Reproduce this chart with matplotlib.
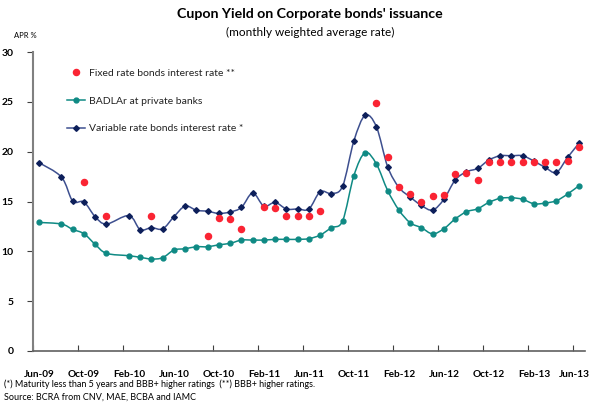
import numpy as np
import matplotlib
matplotlib.use('Agg')
from matplotlib import pyplot as plt
from matplotlib.path import Path
from matplotlib.patches import PathPatch
from matplotlib.lines import Line2D

plt.rcParams['font.family'] = ['Lato', 'DejaVu Sans']

# Data (monthly, Jun-09 .. Jun-13), nan = no observation
nan = np.nan
months = ['Jun-09','Jul-09','Aug-09','Sep-09','Oct-09','Nov-09','Dec-09','Jan-10','Feb-10','Mar-10','Apr-10','May-10',
          'Jun-10','Jul-10','Aug-10','Sep-10','Oct-10','Nov-10','Dec-10','Jan-11','Feb-11','Mar-11','Apr-11','May-11',
          'Jun-11','Jul-11','Aug-11','Sep-11','Oct-11','Nov-11','Dec-11','Jan-12','Feb-12','Mar-12','Apr-12','May-12',
          'Jun-12','Jul-12','Aug-12','Sep-12','Oct-12','Nov-12','Dec-12','Jan-13','Feb-13','Mar-13','Apr-13','May-13',
          'Jun-13']
tick_labels = ['Jun-09','Oct-09','Feb-10','Jun-10','Oct-10','Feb-11','Jun-11','Oct-11','Feb-12','Jun-12','Oct-12','Feb-13','Jun-13']

variable = [18.9, nan, 17.45, 15.05, 14.95, 13.47, 12.74, nan, 13.58, 12.18, 12.38, 12.25,
            13.47, 14.54, 14.12, 14.02, 13.8, 13.95, 14.4, 15.85, 14.54, 14.91, 14.25, 14.25,
            14.25, 15.98, 15.8, 16.55, 21.08, 23.64, 22.5, 18.49, 16.42, 15.45, 14.6, 14.14,
            15.22, 17.15, 17.98, 18.32, 19.16, 19.59, 19.59, 19.59, 19.06, 18.42, 17.92, 19.43,
            20.83]
badlar = [12.9, nan, 12.74, 12.2, 11.77, 10.7, 9.8, nan, 9.56, 9.4, 9.23, 9.36,
          10.13, 10.26, 10.46, 10.46, 10.66, 10.8, 11.13, 11.13, 11.13, 11.2, 11.2, 11.2,
          11.27, 11.63, 12.37, 13.07, 17.6, 19.9, 18.76, 16.1, 14.14, 12.87, 12.37, 11.75,
          12.27, 13.24, 13.97, 14.27, 14.91, 15.32, 15.38, 15.22, 14.77, 14.84, 15.08, 15.75,
          16.58]
fixed = [nan, nan, nan, nan, 17.0, nan, 13.5, nan, nan, nan, 13.5, nan,
         nan, nan, nan, 11.53, 13.35, 13.25, 12.2, nan, 14.4, 14.3, 13.5, 13.5,
         13.5, 14.02, nan, nan, nan, nan, 24.9, 19.49, 16.42, 15.75, 15.0, 15.6,
         15.65, 17.75, 17.88, 17.15, 18.95, 19.0, 19.0, 18.95, 19.0, 19.0, 19.0, 19.04,
         20.5]

NAVY_LINE = '#3d4f8f'
NAVY = '#0d1f5a'
TEAL = '#0f8a84'
RED = '#fa2433'


def smooth_path(x, y):
	# cubic bezier through the points (spreadsheet style smoothing)
	x = np.asarray(x, float); y = np.asarray(y, float)
	m = ~np.isnan(y)
	p = np.column_stack([x[m], y[m]])
	verts = [p[0]]
	codes = [Path.MOVETO]
	n = len(p)
	for i in range(n-1):
		p0 = p[i-1] if i > 0 else p[i]
		p3 = p[i+2] if i+2 < n else p[i+1]
		c1 = p[i] + (p[i+1]-p0)/6.0
		c2 = p[i+1] - (p3-p[i])/6.0
		verts += [c1, c2, p[i+1]]
		codes += [Path.CURVE4]*3
	return Path(verts, codes)


fig = plt.figure(figsize=(5.92, 4.03), dpi=100)
ax = fig.add_axes([33.3/592, 52/403, (584.5-33.3)/592, (351-52)/403])

x = np.arange(len(months))

for vals, lc, mc, mk, ms in [(badlar, TEAL, TEAL, 'o', 3.5), (variable, NAVY_LINE, NAVY, 'D', 2.9)]:
	ax.add_patch(PathPatch(smooth_path(x, vals), facecolor='none', edgecolor=lc, lw=1.1, zorder=2))
	ax.plot(x, vals, linestyle='none', marker=mk, ms=ms, color=mc, zorder=3)

ax.plot(x, fixed, linestyle='none', marker='o', ms=4.4, color=RED, zorder=4)

ax.set_xlim(-0.5, len(months)-0.5)
ax.set_ylim(0, 30)
ax.set_yticks([0, 5, 10, 15, 20, 25, 30])
ax.set_yticklabels(['0', '5', '10', '15', '20', '25', '30'], fontsize=7.5, fontweight='bold')
ax.set_xticks(np.arange(-0.5, len(months), 4))
ax.set_xticklabels([])
label_pos = np.arange(0, len(months), 4).astype(float)
label_pos[-1] -= 0.4   # keep the last label inside the figure
ax.set_xticks(label_pos, minor=True)
ax.set_xticklabels(tick_labels, minor=True, fontsize=7.2, fontweight='bold')
ax.tick_params(axis='x', which='minor', length=0, pad=14)
ax.tick_params(axis='x', which='major', direction='in', length=4, color='#404040', width=0.8)
ax.tick_params(axis='y', direction='out', length=4, color='#404040', width=0.8, pad=10)
for s in ['top', 'right']:
	ax.spines[s].set_visible(False)
ax.spines['left'].set_color('#808080')
ax.spines['left'].set_linewidth(1.5)
ax.spines['bottom'].set_color('#606060')
ax.spines['bottom'].set_linewidth(1.2)

handles = [
	Line2D([], [], linestyle='none', marker='o', ms=4.4, color=RED),
	Line2D([], [], color=TEAL, lw=1.1, marker='o', ms=3.5),
	Line2D([], [], color=NAVY_LINE, lw=1.1, marker='D', ms=2.9, mfc=NAVY, mec=NAVY),
]
labels = ['Fixed rate bonds interest rate **', 'BADLAr at private banks', 'Variable rate bonds interest rate *']
ax.legend(handles, labels, loc='upper left', bbox_to_anchor=(0.045, 0.975), frameon=False,
	fontsize=7.5, labelspacing=1.75, handlelength=1.7, handletextpad=0.4, labelcolor='#222222')

fig.text(310/592, 1-14/403, "Cupon Yield on Corporate bonds' issuance", ha='center', va='center', fontsize=10.2, fontweight='bold')
fig.text(310/592, 1-32/403, '(monthly weighted average rate)', ha='center', va='center', fontsize=8.5)
fig.text(14/592, 1-36/403, 'APR %', ha='left', va='center', fontsize=5.5)
fig.text(4/592, 1-384/403, '(*) Maturity less than 5 years and BBB+ higher ratings  (**) BBB+ higher ratings.', ha='left', va='center', fontsize=6.5)
fig.text(4/592, 1-397/403, 'Source: BCRA from CNV, MAE, BCBA and IAMC', ha='left', va='center', fontsize=6.5)

fig.savefig('out.png', dpi=100)
